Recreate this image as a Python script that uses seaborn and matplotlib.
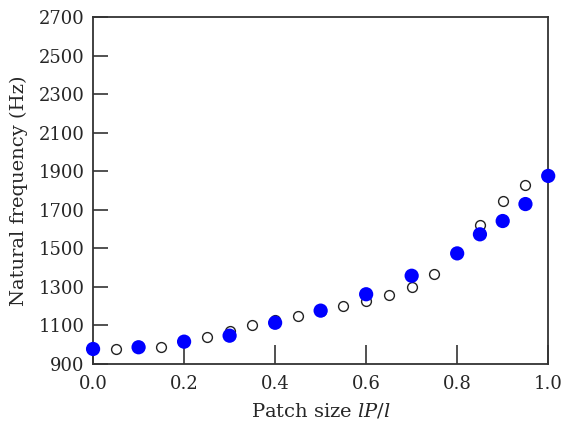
import numpy as np
import pandas as pd
import matplotlib
matplotlib.use("Agg")
import matplotlib.pyplot as plt
import seaborn as sns

# -----------------------------
# Data
# -----------------------------

patch_open = [0.0, 0.05, 0.10, 0.15, 0.20, 0.25, 0.30, 0.35, 0.40, 0.45, 0.50,
              0.55, 0.60, 0.65, 0.70, 0.75, 0.80, 0.85, 0.90, 0.95, 1.0]
freq_open = [978, 976, 987, 990, 1016, 1038, 1073, 1104, 1130, 1151, 1177,
             1203, 1228, 1260, 1300, 1369, 1474, 1620, 1747, 1829, 1876]

patch_filled = [0.0, 0.10, 0.20, 0.30, 0.40, 0.50, 0.60, 0.70, 0.80,
                0.85, 0.90, 0.95, 1.0]
freq_filled = [978, 987, 1016, 1047, 1114, 1177, 1262, 1358, 1474,
               1573, 1642, 1730, 1876]

y_ticks = [900, 1100, 1300, 1500, 1700, 1900, 2100, 2300, 2500, 2700]
x_ticks = [0.0, 0.2, 0.4, 0.6, 0.8, 1.0]

open_df = pd.DataFrame({"patch": patch_open, "freq": freq_open})
filled_df = pd.DataFrame({"patch": patch_filled, "freq": freq_filled})

# -----------------------------
# Plot
# -----------------------------

sns.set_style("white")
plt.rcParams["font.family"] = ["DejaVu Serif"]
plt.rcParams["mathtext.fontset"] = "dejavuserif"

fig = plt.figure(figsize=(5.64, 4.28), dpi=100)
ax = fig.add_axes([0.165, 0.1495, 0.807, 0.8105])

sns.scatterplot(data=open_df, x="patch", y="freq", ax=ax,
                s=50, facecolor="white", edgecolor="#222222",
                linewidth=1.0, zorder=3, clip_on=False)
sns.scatterplot(data=filled_df, x="patch", y="freq", ax=ax,
                s=105, color="#0000ff", edgecolor="none", zorder=4,
                clip_on=False)

ax.set_xlim(0, 1.0)
ax.set_ylim(900, 2700)
ax.set_xticks(x_ticks)
ax.set_yticks(y_ticks)
ax.set_xticklabels([f"{v:.1f}" for v in x_ticks])
ax.set_yticklabels([str(v) for v in y_ticks])

ax.tick_params(axis="y", direction="in", length=11, width=1.2,
               color="#333333", labelsize=13, pad=6, left=True)
ax.tick_params(axis="x", direction="in", length=14, width=1.2,
               color="#333333", labelsize=13, pad=8, bottom=True)

for sp in ax.spines.values():
    sp.set_color("#333333")
    sp.set_linewidth(1.3)

ax.set_xlabel("Patch size $lP/l$", fontsize=14, labelpad=6)
ax.set_ylabel("Natural frequency (Hz)", fontsize=14, labelpad=8)

fig.savefig("out.png", dpi=100)
